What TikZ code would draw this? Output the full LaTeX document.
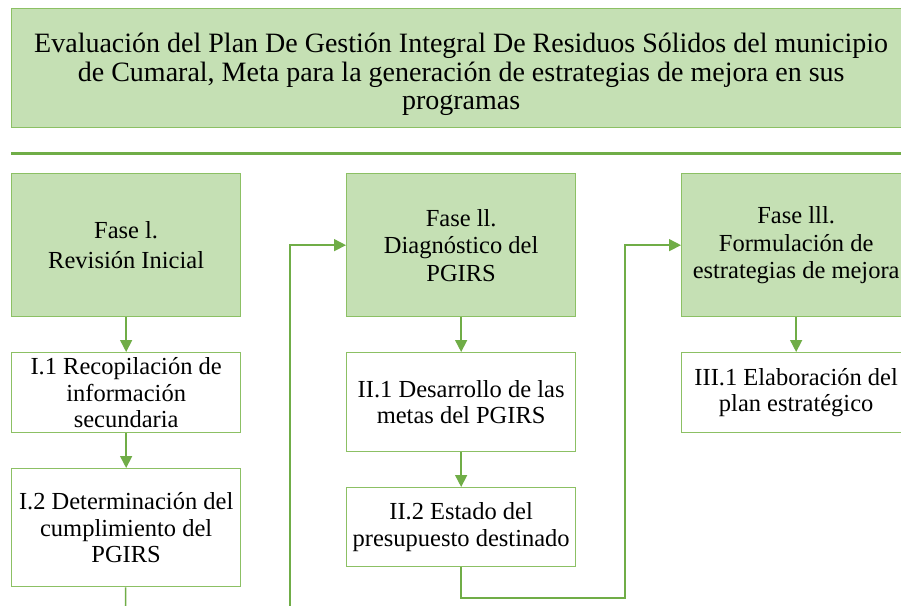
\documentclass[tikz,border=0pt]{standalone}
\usepackage{fontspec}
\setmainfont{Liberation Serif}
\usetikzlibrary{arrows.meta}
\definecolor{lightfill}{RGB}{197,224,180}
\definecolor{boxline}{RGB}{140,192,100}
\definecolor{arrowgreen}{RGB}{112,173,71}
\tikzset{
  box/.style={draw=boxline, line width=1.3pt, align=center, inner sep=2pt, anchor=north west, font=\fontsize{24.5}{26.5}\selectfont},
  phase/.style={box, fill=lightfill},
  task/.style={box, fill=white},
  conn/.style={draw=arrowgreen, line width=1.6pt},
  arr/.style={conn, -{Triangle[length=12pt,width=12pt]}},
}
\begin{document}
\begin{tikzpicture}[x=1pt,y=-1pt]
\useasboundingbox (0,0) rectangle (901,605);
\clip (0,0) rectangle (901,605);
\node[phase, minimum width=899pt, minimum height=119pt, font=\fontsize{28}{28.5}\selectfont] (title) at (11,8)
  {\rule{0pt}{32pt}Evaluación del Plan De Gestión Integral De Residuos Sólidos del municipio\\de Cumaral, Meta para la generación de estrategias de mejora en sus\\programas};
\draw[arrowgreen, line width=3pt] (11,153) -- (905,153);
\node[phase, minimum width=229pt, minimum height=143pt, font=\fontsize{24.5}{30}\selectfont] (f1) at (11,173) {Fase l.\\Revisión Inicial};
\node[task, minimum width=229pt, minimum height=80pt] (i1) at (11,352) {I.1 Recopilación de\\información\\secundaria};
\node[task, minimum width=229pt, minimum height=118pt] (i2) at (11,468) {I.2 Determinación del\\cumplimiento del\\PGIRS};
\node[phase, minimum width=229pt, minimum height=143pt, font=\fontsize{24.5}{27.5}\selectfont] (f2) at (346,173) {Fase ll.\\Diagnóstico del\\PGIRS};
\node[task, minimum width=229pt, minimum height=99pt] (ii1) at (346,352) {II.1 Desarrollo de las\\metas del PGIRS};
\node[task, minimum width=229pt, minimum height=79pt] (ii2) at (346,487) {II.2 Estado del\\presupuesto destinado};
\node[phase, minimum width=229pt, minimum height=143pt, font=\fontsize{24.5}{27.5}\selectfont] (f3) at (681,173) {Fase lll.\\Formulación de\\estrategias de mejora};
\node[task, minimum width=229pt, minimum height=80pt] (iii1) at (681,352) {III.1 Elaboración del\\plan estratégico};
\coordinate (e1) at (125.5,612);
\coordinate (c1) at (290,612);
\coordinate (c2) at (625,598);
\draw[arr] (f1) -- (i1);
\draw[arr] (i1) -- (i2);
\draw[conn] (i2) -- (e1);
\draw[arr] (c1) |- (f2.west);
\draw[arr] (f2) -- (ii1);
\draw[arr] (ii1) -- (ii2);
\draw[arr] (ii2.south) |- (c2) |- (f3.west);
\draw[arr] (f3) -- (iii1);
\end{tikzpicture}
\end{document}
